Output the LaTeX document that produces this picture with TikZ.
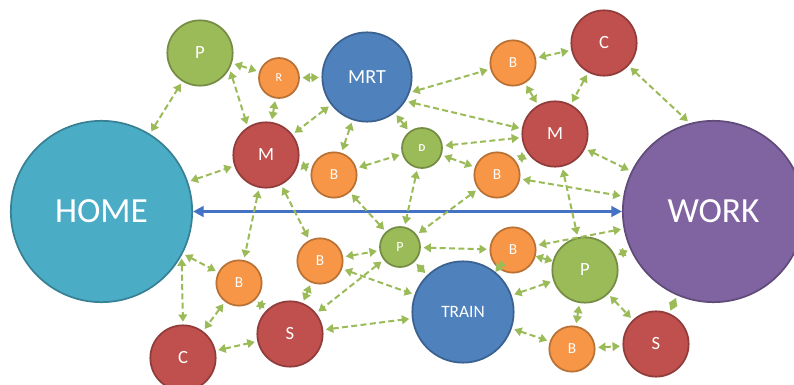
\documentclass[tikz,border=0pt]{standalone}
\usepackage{fontspec}
\setmainfont{Carlito}
\usepackage{tikz}
\usetikzlibrary{positioning,arrows.meta,shapes}
\definecolor{cgreen}{HTML}{9BBB59}
\definecolor{corange}{HTML}{F79646}
\definecolor{cred}{HTML}{C0504D}
\definecolor{cblue}{HTML}{4F81BD}
\definecolor{cteal}{HTML}{4BACC6}
\definecolor{cpurple}{HTML}{8064A2}
\definecolor{carrow}{HTML}{4472C4}
\tikzstyle{link} = [draw=cgreen, line width=1.5pt, dash pattern=on 4.5pt off 2.5pt, {Triangle[length=5.5pt,width=6.5pt]}-{Triangle[length=5.5pt,width=6.5pt]}, shorten <=2pt, shorten >=2pt]
\tikzstyle{trip} = [draw=carrow, line width=2.6pt, {Triangle[length=8pt,width=8pt]}-{Triangle[length=8pt,width=8pt]}]

\begin{document}
\begin{tikzpicture}[x=0.75pt, y=-0.75pt,
    N/.style = {circle, fill=#1, draw=#1!75!black, line width=1.3pt, text=white, inner sep=0pt},
    N/.default=cgreen,
    big/.style = {minimum size=136pt, font=\fontsize{26.5}{26.5}\selectfont},
    mid/.style = {minimum size=49pt, font=\fontsize{14}{14}\selectfont},
    sml/.style = {minimum size=34pt, font=\fontsize{11.5}{12}\selectfont},
    tny/.style = {minimum size=30pt, font=\fontsize{9}{9}\selectfont}]
    \useasboundingbox (0,0) rectangle (794,385);
    % main places
    \node (home) [N=cteal, big] at (101.5,211.5) {HOME};
    \node (work) [N=cpurple, big] at (713.5,211.5) {WORK};
    \node (mrt) [N=cblue, minimum size=67pt, font=\fontsize{15}{15}\selectfont] at (367,77) {MRT};
    \node (train) [N=cblue, minimum size=76pt, font=\fontsize{13}{13}\selectfont] at (463,312) {TRAIN};
    % upper half
    \node (p1) [N=cgreen, mid] at (200,53) {P};
    \node (r1) [N=corange, tny] at (279,78) {R};
    \node (m1) [N=cred, mid] at (266,155) {M};
    \node (b1) [N=corange, sml] at (334,175) {B};
    \node (d1) [N=cgreen, tny, font=\fontsize{8}{8}\selectfont\bfseries] at (422,148) {D};
    \node (b2) [N=corange, sml] at (513,63) {B};
    \node (c1) [N=cred, mid] at (604,43) {C};
    \node (m2) [N=cred, mid] at (555,134) {M};
    \node (b3) [N=corange, sml] at (497,175) {B};
    % lower half
    \node (b4) [N=corange, sml] at (239,283) {B};
    \node (c2) [N=cred, mid] at (183,358) {C};
    \node (s1) [N=cred, mid] at (290,334) {S};
    \node (b5) [N=corange, sml] at (320,261) {B};
    \node (p2) [N=cgreen, tny, font=\fontsize{10.5}{10.5}\selectfont] at (400,247) {P};
    \node (b6) [N=corange, sml] at (513,250) {B};
    \node (p3) [N=cgreen, mid] at (585,270) {P};
    \node (b7) [N=corange, sml] at (572,349) {B};
    \node (s2) [N=cred, mid] at (656,344) {S};

    \draw[trip] (home) -- (work);

    \draw[link] (home) -- (p1);
    \draw[link] (home) -- (m1);
    \draw[link] (home) -- (b4);
    \draw[link] (home.-29) -- (c2.north);
    \draw[link] (p1) -- (r1);
    \draw[link] (p1.-28) -- (m1.123);
    \draw[link] (r1) -- (mrt);
    \draw[link] (r1) -- (m1);
    \draw[link] (mrt) -- (m1);
    \draw[link] (mrt) -- (b1);
    \draw[link] (mrt) -- (d1);
    \draw[link] (mrt.-20) -- (b2.195);
    \draw[link] (mrt.-32) -- (m2.171);
    \draw[link] (m1) -- (b1);
    \draw[link] (m1) -- (b4);
    \draw[link] (m1) -- (b5);
    \draw[link] (b1) -- (d1);
    \draw[link] (b1) -- (p2);
    \draw[link] (d1) -- (m2);
    \draw[link] (d1) -- (b3);
    \draw[link] (d1) -- (p2);
    \draw[link] (b2) -- (c1);
    \draw[link] (b2) -- (m2);
    \draw[link] (c1) -- (m2);
    \draw[link] (c1) -- (work.105);
    \draw[link] (m2) -- (work);
    \draw[link] (m2) -- (b3);
    \draw[link] (m2) -- (p3);
    \draw[link] (b3) -- (work);
    \draw[link] (b3) -- (p2);
    \draw[link] (work) -- (b6);
    \draw[link] (work) -- (p3);
    \draw[link] (work) -- (s2);
    \draw[link] (b4) -- (c2);
    \draw[link] (b4) -- (s1);
    \draw[link] (c2) -- (s1);
    \draw[link] (b5) -- (s1);
    \draw[link] (b5) -- (p2);
    \draw[link] (b5) -- (train);
    \draw[link] (p2) -- (s1);
    \draw[link] (s1) -- (train);
    \draw[link] (p2) -- (train);
    \draw[link] (p2) -- (b6);
    \draw[link, shorten <=0pt, shorten >=0pt] (b6) -- (train);
    \draw[link, shorten <=0pt, shorten >=0pt] (b6) -- (p3);
    \draw[link] (p3) -- (train);
    \draw[link] (p3) -- (b7);
    \draw[link] (p3) -- (s2);
    \draw[link] (train) -- (b7);
    \draw[link] (b7) -- (s2);
\end{tikzpicture}
\end{document}
